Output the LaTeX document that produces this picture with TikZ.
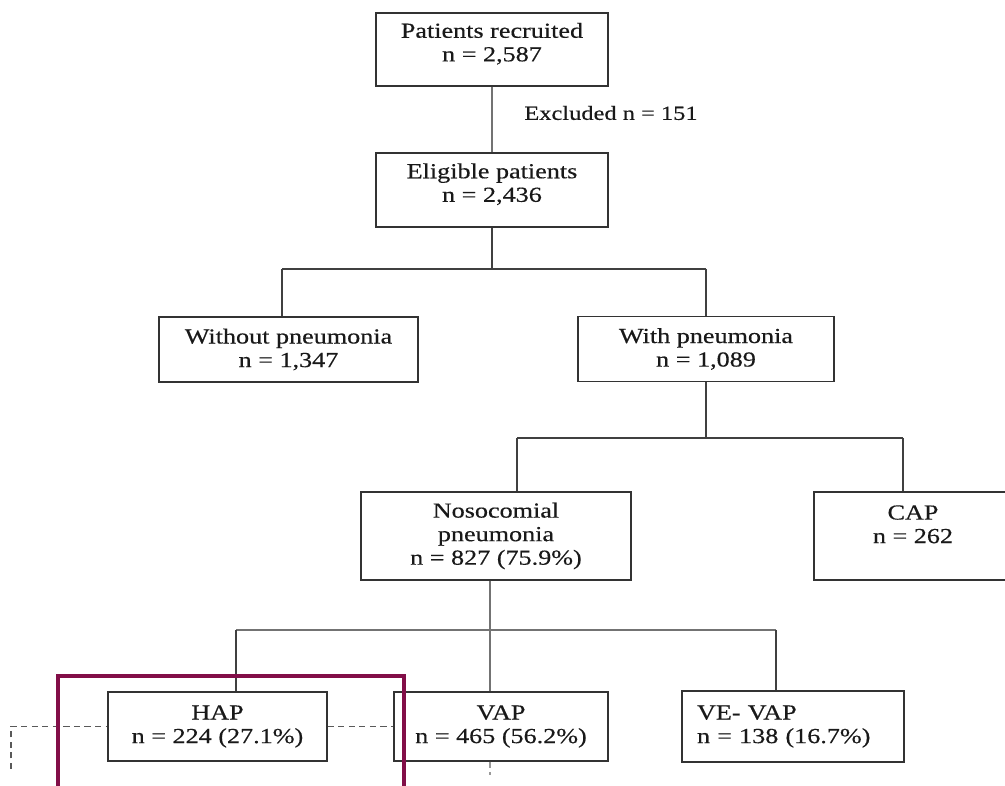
\documentclass[tikz,border=0pt]{standalone}
\usepackage{fontspec}
\setmainfont[FakeStretch=1.22, FakeBold=0.4]{Liberation Serif}
\definecolor{hilite}{RGB}{130,14,72}

\begin{document}
\begin{tikzpicture}[x=0.02cm, y=-0.02cm,
    box/.style={draw=black!80, line width=0.8pt, align=center, inner sep=0pt,
      text=black!90, font=\fontsize{12.2}{13.4}\selectfont},
    link/.style={draw=black!75, line width=0.8pt},
    lightlink/.style={draw=black!55, line width=0.8pt},
    helperline/.style={draw=black!65, line width=0.7pt, dash pattern=on 3.5pt off 2.5pt},
    frame/.style={draw=hilite, line width=1.8pt}]
  \clip (0,0) rectangle (1005,786);

  % flow boxes
  \node[box, minimum width=4.64cm, minimum height=1.46cm] (rec) at (492,49.5)
    {Patients recruited\\ n = 2,587\\[-5pt]\mbox{}};
  \node[box, minimum width=4.64cm, minimum height=1.48cm] (elig) at (492,190)
    {Eligible patients\\ n = 2,436\\[-5pt]\mbox{}};
  \node[box, minimum width=5.18cm, minimum height=1.3cm] (without) at (288.5,349.5)
    {Without pneumonia\\ n = 1,347};
  \node[box, minimum width=5.12cm, minimum height=1.3cm] (with) at (706,349)
    {With pneumonia\\ n = 1,089};
  \node[box, minimum width=5.4cm, minimum height=1.76cm] (noso) at (496,536)
    {Nosocomial\\ pneumonia\\ n = 827 (75.9\%)};
  \node[box, minimum width=3.96cm, minimum height=1.76cm] (cap) at (913,536)
    {CAP\\ n = 262\\ \mbox{}};
  \node[box, minimum width=4.38cm, minimum height=1.38cm] (hap) at (217.5,726.5)
    {HAP\\ n = 224 (27.1\%)};
  \node[box, minimum width=4.28cm, minimum height=1.38cm] (vap) at (501,726.5)
    {VAP\\ n = 465 (56.2\%)};
  \node[box, align=left, text width=3.84cm, inner xsep=0.3cm,
    minimum height=1.42cm] (vevap) at (793,726.5)
    {VE- VAP\\ n = 138 (16.7\%)};

  \node[font=\fontsize{11.4}{12.9}\selectfont, text=black!90, anchor=west, inner xsep=0pt]
    (excl) at (524,113) {Excluded n = 151};

  % junctions (helpers)
  \coordinate (j1l) at (282,269);   \coordinate (j1r) at (706,269);
  \coordinate (j2l) at (517,438);   \coordinate (j2r) at (903,438);
  \coordinate (j3l) at (236,630);   \coordinate (j3m) at (490,630);
  \coordinate (j3r) at (776,630);

  \draw[lightlink] (rec) -- (elig);
  \draw[link] (elig) -- (elig.south |- j1l);
  \draw[link] (j1l) -- (j1r);
  \draw[link] (j1l) -- (j1l |- without.north);
  \draw[link] (j1r) -- (j1r |- with.north);

  \draw[link] (with) -- (with.south |- j2l);
  \draw[link] (j2l) -- (j2r);
  \draw[link] (j2l) -- (j2l |- noso.north);
  \draw[link] (j2r) -- (j2r |- cap.north);

  \draw[lightlink] (j3m |- noso.south) -- (j3m);
  \draw[lightlink] (j3l) -- (j3r);
  \draw[link] (j3l) -- (j3l |- hap.north);
  \draw[lightlink] (j3m) -- (j3m |- vap.north);
  \draw[link] (j3r) -- (j3r |- vevap.north);

  % dashed helpers
  \coordinate (d1) at (11,769);
  \coordinate (d2) at (490,775);
  \draw[helperline] (d1) |- (hap.west);
  \draw[helperline] (hap.east) -- (vap.west);
  \draw[helperline, draw=black!40] (d2 |- vap.south) -- (d2);

  % highlight frame
  \draw[frame] (58,800) |- (404,676) -- (404,800);
\end{tikzpicture}
\end{document}
